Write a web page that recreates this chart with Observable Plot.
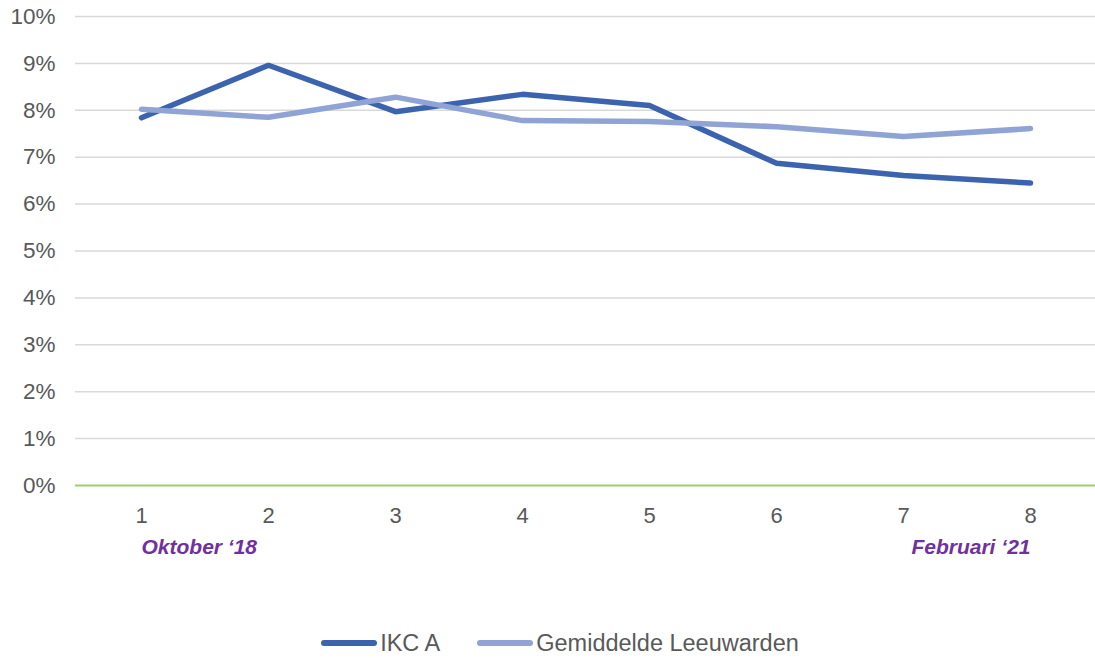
<!DOCTYPE html>
<html>
<head>
<meta charset="utf-8">
<script src="https://cdn.jsdelivr.net/npm/d3@7"></script>
<script src="https://cdn.jsdelivr.net/npm/@observablehq/plot@0.6"></script>
<style>
  html, body { margin: 0; padding: 0; background: #fff; }
  #chart { width: 1095px; }
  .legend { display: flex; justify-content: center; align-items: center; gap: 37px; height: 30px; line-height: 30px;
    font-family: "Liberation Sans", Arial, sans-serif; font-size: 23.5px; color: #595959; margin-top: 28px;
    padding-left: 25px; box-sizing: border-box; width: 1095px; }
  .legend span.item { display: flex; align-items: center; }
  .legend span.sw { display: inline-block; width: 56px; height: 6px; border-radius: 3px; margin-right: 3px; }
</style>
</head>
<body>
<div id="chart"></div>
<script>
const periods = [1, 2, 3, 4, 5, 6, 7, 8];
const ikcA = [7.84, 8.96, 7.97, 8.34, 8.10, 6.87, 6.61, 6.45];
const gemiddelde = [8.02, 7.85, 8.28, 7.78, 7.76, 7.65, 7.44, 7.61];
const seriesNames = ["IKC A", "Gemiddelde Leeuwarden"];
const seriesColors = ["#3C63AD", "#8FA3D5"];
const yTicks = [0, 0.01, 0.02, 0.03, 0.04, 0.05, 0.06, 0.07, 0.08, 0.09, 0.10];
const periodLabels = [
  {x: 1, text: "Oktober \u201818", anchor: "start"},
  {x: 8, text: "Februari \u201821", anchor: "end"}
];

const rows = [];
periods.forEach((p, i) => {
  rows.push({period: p, value: ikcA[i] / 100, series: seriesNames[0]});
  rows.push({period: p, value: gemiddelde[i] / 100, series: seriesNames[1]});
});

const chart = Plot.plot({
  width: 1095,
  height: 600,
  marginLeft: 75,
  marginRight: 0,
  marginTop: 16,
  marginBottom: 115,
  style: {fontFamily: "'Liberation Sans', Arial, sans-serif", fontSize: "22px", color: "#595959", background: "#fff"},
  x: {type: "point", domain: periods, padding: 0.5, axis: null},
  y: {domain: [0, 0.10], axis: null},
  color: {domain: seriesNames, range: seriesColors},
  marks: [
    Plot.gridY(yTicks.filter(d => d > 0), {stroke: "#D9D9D9", strokeOpacity: 1, strokeWidth: 1.5}),
    Plot.ruleY([0], {stroke: "#9CD16A", strokeWidth: 2}),
    Plot.axisY(yTicks, {tickSize: 0, tickPadding: 20, tickFormat: d3.format(".0%"), fill: "#595959", fontSize: 22.5, label: null}),
    Plot.axisX(periods, {tickSize: 0, tickPadding: 22, fill: "#595959", fontSize: 22, label: null}),
    Plot.line(rows, {x: "period", y: "value", z: "series", stroke: "series", strokeWidth: 5.5, strokeLinecap: "round", strokeLinejoin: "miter"}),
    Plot.text(periodLabels.filter(d => d.anchor === "start"), {x: "x", text: "text", frameAnchor: "bottom", dy: 68, textAnchor: "start", fill: "#7030A0", fontWeight: "bold", fontStyle: "italic", fontSize: 21}),
    Plot.text(periodLabels.filter(d => d.anchor === "end"), {x: "x", text: "text", frameAnchor: "bottom", dy: 68, textAnchor: "end", fill: "#7030A0", fontWeight: "bold", fontStyle: "italic", fontSize: 21})
  ]
});
document.getElementById("chart").appendChild(chart);

const legend = document.createElement("div");
legend.className = "legend";
seriesNames.forEach((n, i) => {
  const item = document.createElement("span");
  item.className = "item";
  const sw = document.createElement("span");
  sw.className = "sw";
  sw.style.background = seriesColors[i];
  item.appendChild(sw);
  item.appendChild(document.createTextNode(n));
  legend.appendChild(item);
});
document.getElementById("chart").appendChild(legend);
</script>
</body>
</html>
